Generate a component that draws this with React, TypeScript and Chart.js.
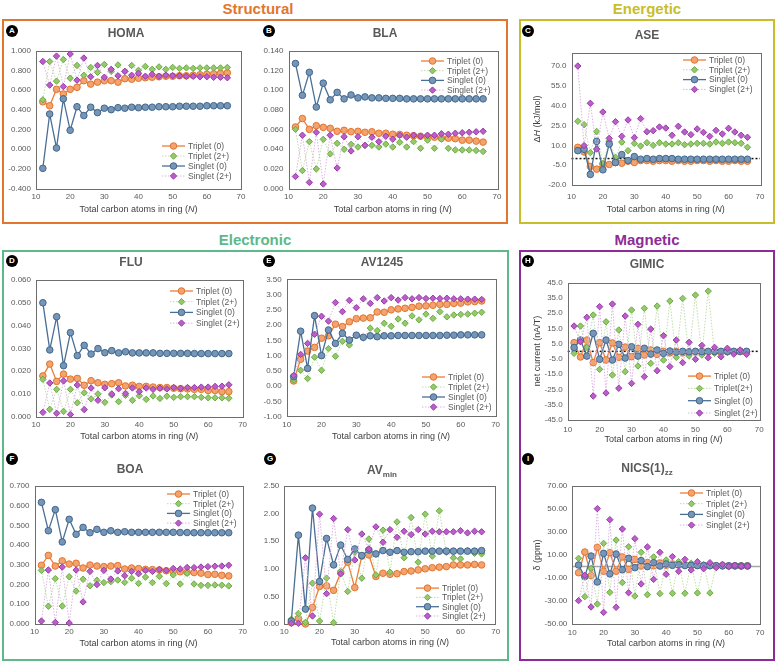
import React, { useEffect, useRef } from "react";
import { Chart, registerables } from "chart.js";

Chart.register(...registerables);

const FONT = '"Liberation Sans", Arial, Helvetica, sans-serif';
const TEXT = "#595959";

// ---------- data ----------
const N = [12, 14, 16, 18, 20, 22, 24, 26, 28, 30, 32, 34, 36, 38, 40, 42, 44, 46, 48, 50, 52, 54, 56, 58, 60, 62, 64, 66];
const X_TICKS = [10, 20, 30, 40, 50, 60, 70];
const LABELS = ["Triplet (0)", "Triplet (2+)", "Singlet (0)", "Singlet (2+)"];
const GIMIC_LABELS = ["Triplet (0)", "Triplet(2+)", "Singlet (0)", "Singlet (2+)"];

const HOMA_T0 = [0.48, 0.44, 0.607, 0.56, 0.607, 0.627, 0.695, 0.66, 0.68, 0.695, 0.695, 0.68, 0.715, 0.71, 0.72, 0.725, 0.73, 0.735, 0.74, 0.74, 0.745, 0.745, 0.75, 0.755, 0.76, 0.765, 0.77, 0.775];
const HOMA_T2 = [0.5, 0.89, 0.69, 0.91, 0.72, 0.85, 0.75, 0.83, 0.78, 0.86, 0.79, 0.855, 0.79, 0.85, 0.8, 0.84, 0.81, 0.835, 0.81, 0.83, 0.82, 0.825, 0.82, 0.825, 0.825, 0.825, 0.825, 0.83];
const HOMA_S0 = [-0.197, 0.356, 0.01, 0.51, 0.19, 0.43, 0.34, 0.425, 0.37, 0.415, 0.4, 0.42, 0.415, 0.425, 0.42, 0.425, 0.425, 0.43, 0.43, 0.43, 0.435, 0.435, 0.435, 0.435, 0.44, 0.44, 0.44, 0.44];
const HOMA_S2 = [0.89, 0.65, 0.945, 0.635, 0.966, 0.7, 0.925, 0.735, 0.85, 0.73, 0.81, 0.745, 0.79, 0.75, 0.77, 0.74, 0.76, 0.74, 0.75, 0.745, 0.745, 0.74, 0.74, 0.735, 0.735, 0.73, 0.73, 0.725];
const HOMA_TICKS = [-0.4, -0.2, 0, 0.2, 0.4, 0.6, 0.8, 1.0];

const BLA_T0 = [0.0624, 0.071, 0.06, 0.0637, 0.062, 0.061, 0.058, 0.059, 0.0576, 0.058, 0.057, 0.0575, 0.056, 0.056, 0.055, 0.0548, 0.054, 0.0535, 0.053, 0.0525, 0.052, 0.051, 0.051, 0.0505, 0.049, 0.049, 0.048, 0.047];
const BLA_T2 = [0.06, 0.018, 0.0475, 0.0197, 0.0498, 0.035, 0.0458, 0.0397, 0.0447, 0.042, 0.0437, 0.0437, 0.042, 0.045, 0.042, 0.0468, 0.042, 0.0475, 0.0407, 0.049, 0.0407, 0.05, 0.0407, 0.039, 0.039, 0.039, 0.0385, 0.0375];
const BLA_S0 = [0.127, 0.0946, 0.118, 0.0827, 0.107, 0.09, 0.0976, 0.091, 0.095, 0.092, 0.093, 0.092, 0.092, 0.0915, 0.0915, 0.0915, 0.091, 0.091, 0.091, 0.091, 0.091, 0.091, 0.091, 0.091, 0.091, 0.091, 0.091, 0.091];
const BLA_S2 = [0.012, 0.054, 0.006, 0.057, 0.0044, 0.054, 0.0207, 0.0525, 0.038, 0.0525, 0.0437, 0.052, 0.0475, 0.053, 0.05, 0.054, 0.052, 0.054, 0.053, 0.054, 0.054, 0.0555, 0.055, 0.056, 0.0565, 0.057, 0.0575, 0.058];
const BLA_TICKS = [0, 0.02, 0.04, 0.06, 0.08, 0.1, 0.12, 0.14];

const ASE_T0 = [8.5, 5, -6, -8, -4, -4.5, -3, -3.5, -2, -3, -1.5, -1.5, -2, -1.5, -1.5, -2, -1.5, -2, -2, -1.5, -1.5, -2, -1.5, -2, -2, -1.5, -2, -2];
const ASE_T2 = [28.2, 25.6, 4.5, 20.5, -4, 13, 1, 12.5, 6, 11.5, 9.5, 12, 10, 12, 11, 11, 12, 10.5, 11, 11.5, 11.5, 11, 12.5, 11.5, 12.5, 12, 11.5, 8.5];
const ASE_S0 = [6, 7, -12, 13, -8.5, 11, -3, 3, -1.5, 1.5, -0.5, 0, -0.5, 0, 0, 0, -0.5, -0.5, -0.5, -0.5, -0.5, -0.5, -0.5, -0.5, -0.5, -0.5, -0.5, -0.5];
const ASE_S2 = [70, 9.8, 41.8, 7.2, 35.2, 15.3, 27.9, 16.8, 29.2, 15.8, 30.2, 20.3, 21.1, 23.9, 23.1, 17.6, 24.4, 20.1, 18.1, 22.4, 19.8, 16.8, 21.3, 18.6, 22.9, 20.1, 17.6, 16.1];
const ASE_TICKS = [-20, -5, 10, 25, 40, 55, 70];
const ASE_MAX = 80;

const FLU_T0 = [0.0179, 0.0231, 0.0155, 0.0187, 0.0165, 0.0168, 0.0138, 0.0158, 0.0149, 0.0142, 0.0145, 0.0149, 0.0135, 0.0138, 0.0133, 0.0133, 0.013, 0.0128, 0.0128, 0.0125, 0.0123, 0.0122, 0.012, 0.012, 0.0115, 0.0115, 0.011, 0.011];
const FLU_T2 = [0.0164, 0.0032, 0.012, 0.0023, 0.012, 0.0061, 0.0105, 0.0078, 0.01, 0.0063, 0.0095, 0.0066, 0.0094, 0.0072, 0.0092, 0.0076, 0.0091, 0.008, 0.009, 0.0085, 0.0088, 0.0088, 0.0088, 0.0085, 0.0083, 0.0083, 0.0083, 0.0081];
const FLU_S0 = [0.05, 0.0293, 0.0439, 0.0224, 0.0369, 0.0268, 0.0313, 0.0275, 0.0299, 0.0281, 0.029, 0.028, 0.0285, 0.028, 0.028, 0.028, 0.028, 0.0278, 0.0278, 0.0278, 0.0278, 0.0278, 0.0277, 0.0277, 0.0277, 0.0277, 0.0277, 0.0277];
const FLU_S2 = [0.0019, 0.0148, 0.0015, 0.0157, 0.001, 0.0139, 0.0031, 0.0126, 0.0072, 0.0127, 0.01, 0.0123, 0.0102, 0.0126, 0.011, 0.0126, 0.012, 0.0125, 0.0122, 0.0128, 0.0125, 0.0128, 0.0128, 0.013, 0.013, 0.0133, 0.0134, 0.014];
const FLU_TICKS = [0, 0.01, 0.02, 0.03, 0.04, 0.05, 0.06];

const AV1245_T0 = [0.17, 0.88, 1.15, 1.27, 1.57, 1.65, 2.03, 1.95, 2.11, 2.21, 2.23, 2.24, 2.43, 2.42, 2.5, 2.53, 2.55, 2.58, 2.62, 2.63, 2.65, 2.68, 2.68, 2.71, 2.72, 2.76, 2.77, 2.79];
const AV1245_T2 = [0.2, 0.52, 0.25, 0.95, 0.52, 1.23, 0.98, 1.47, 1.35, 1.65, 1.58, 1.9, 1.82, 2.06, 1.96, 2.2, 2.06, 2.3, 2.17, 2.36, 2.22, 2.44, 2.27, 2.33, 2.35, 2.36, 2.39, 2.42];
const AV1245_S0 = [0.31, 1.8, 0.58, 2.31, 1.0, 1.84, 1.4, 1.73, 1.51, 1.67, 1.6, 1.65, 1.62, 1.65, 1.65, 1.66, 1.66, 1.66, 1.66, 1.66, 1.66, 1.66, 1.67, 1.67, 1.68, 1.68, 1.68, 1.68];
const AV1245_S2 = [0.35, 1.04, 1.4, 1.7, 2.29, 2.13, 2.74, 2.44, 2.81, 2.57, 2.86, 2.71, 2.9, 2.79, 2.9, 2.82, 2.9, 2.86, 2.9, 2.87, 2.88, 2.87, 2.88, 2.86, 2.86, 2.85, 2.85, 2.84];
const AV1245_TICKS = [-1, -0.5, 0, 0.5, 1, 1.5, 2, 2.5, 3, 3.5];

const BOA_T0 = [0.298, 0.348, 0.294, 0.32, 0.304, 0.308, 0.284, 0.299, 0.294, 0.291, 0.294, 0.296, 0.279, 0.284, 0.281, 0.277, 0.276, 0.274, 0.27, 0.268, 0.265, 0.262, 0.261, 0.258, 0.251, 0.252, 0.247, 0.244];
const BOA_T2 = [0.272, 0.09, 0.23, 0.091, 0.24, 0.167, 0.227, 0.194, 0.222, 0.21, 0.215, 0.223, 0.211, 0.232, 0.206, 0.238, 0.21, 0.242, 0.205, 0.249, 0.203, 0.257, 0.203, 0.196, 0.196, 0.198, 0.197, 0.193];
const BOA_S0 = [0.617, 0.473, 0.58, 0.416, 0.531, 0.455, 0.49, 0.463, 0.48, 0.465, 0.473, 0.465, 0.468, 0.465, 0.465, 0.465, 0.465, 0.465, 0.465, 0.465, 0.464, 0.464, 0.463, 0.463, 0.463, 0.463, 0.463, 0.463];
const BOA_S2 = [0.015, 0.274, 0.008, 0.289, 0.005, 0.274, 0.112, 0.267, 0.2, 0.272, 0.228, 0.269, 0.245, 0.267, 0.255, 0.272, 0.267, 0.277, 0.272, 0.282, 0.279, 0.287, 0.286, 0.289, 0.291, 0.293, 0.294, 0.298];
const BOA_TICKS = [0, 0.1, 0.2, 0.3, 0.4, 0.5, 0.6, 0.7];

const AVMIN_T0 = [0.024, 0.1, 0.0, 0.3, 0.68, 0.69, 0.61, 0.93, 1.12, 0.66, 1.23, 1.25, 0.86, 0.92, 0.9, 0.91, 0.95, 0.96, 0.98, 1.0, 1.02, 1.03, 1.04, 1.07, 1.07, 1.07, 1.08, 1.07];
const AVMIN_T2 = [0.085, 0.19, 0.03, 0.74, 0.054, 0.83, 0.024, 0.95, 0.59, 1.3, 0.83, 1.54, 0.89, 1.7, 0.94, 1.85, 1.2, 1.93, 1.12, 1.99, 1.23, 2.05, 1.3, 1.2, 1.18, 1.33, 1.28, 1.27];
const AVMIN_S0 = [0.054, 1.61, 0.27, 2.1, 0.77, 1.55, 1.07, 1.43, 1.17, 1.36, 1.24, 1.34, 1.27, 1.33, 1.3, 1.33, 1.3, 1.31, 1.31, 1.32, 1.32, 1.32, 1.32, 1.32, 1.32, 1.32, 1.32, 1.33];
const AVMIN_S2 = [0.012, 0.012, 1.2, 0.145, 1.99, 0.55, 1.91, 0.91, 1.71, 1.16, 1.63, 1.36, 1.76, 1.48, 1.71, 1.57, 1.68, 1.62, 1.71, 1.63, 1.68, 1.67, 1.67, 1.67, 1.69, 1.65, 1.68, 1.67];
const AVMIN_TICKS = [0, 0.5, 1, 1.5, 2, 2.5];

const GIMIC_T0 = [5.7, -3.7, 7.4, -7.4, 5.7, -5.7, 5.5, -3.9, 2.8, -3.5, 2, -2.4, 0.9, -2, 0, -1, 0, -1, -0.5, -0.5, 0, -0.5, -0.3, -0.5, -0.3, -0.3, -0.2, -0.3];
const GIMIC_T2 = [-1.3, 16.6, 2.6, 23.8, -11.8, 19.4, -15.5, 14, -13.3, 27.1, -9.6, 28.2, -7.9, 29.7, -5.7, 33, -3.9, 34.7, -3.1, 36.9, -2.4, 39.5, -1.3, -0.9, -0.7, -0.5, -0.3, -0.3];
const GIMIC_S0 = [2.5, 7.4, -3.1, 11.8, -5.2, 7.4, -5.7, 4.6, -4.4, 3, -3.1, 2, -1.8, 0.9, -1.3, 0.2, -0.5, 0, -0.3, 0, -0.2, 0, -0.1, 0, 0, 0, 0, 0];
const GIMIC_S2 = [16.6, 6.3, 22.3, -29.3, 29.3, -27.3, 31, -24.2, 23.2, -21, 17.7, -16.6, 14.6, -12.7, 10.3, -10, 7.4, -7.4, 5.9, -5.2, 3.9, -4.2, 2.6, -3.5, 2, -1.8, 0.9, -2];
const GIMIC_TICKS = [-45, -35, -25, -15, -5, 5, 15, 25, 35, 45];

const NICS_T0 = [-5.4, 12.6, -8, 16.7, -4.1, 12, -4.1, 8.3, -2.5, 6.2, 0.4, 3.5, 0.7, 3, 1, 2.2, 1.3, 1.5, 1, 1, 0.8, 0.8, 0.6, 0.6, 0.5, 0.5, 0.5, 0.5];
const NICS_T2 = [7.1, -26.2, -1.6, -32.6, 20.1, -22.5, 23, -14, 17.2, -25.7, 12.3, -24.5, 8.3, -23.6, 5.7, -23.3, 4.2, -23.3, 2.8, -23, 1.6, -23, 0.7, 0.5, 0.5, 0.5, 0.3, 0.3];
const NICS_S0 = [1.3, -8.8, 9.1, -13.5, 11.4, -6.4, 10.8, -2.8, 7.1, -1, 5.1, -0.1, 3.3, 0.4, 2.2, 1, 1.5, 0.8, 1, 0.8, 0.8, 0.7, 0.7, 0.6, 0.6, 0.6, 0.5, 0.5];
const NICS_S2 = [-29.7, -7.7, -35.2, 50.3, -39.9, 40.7, -35.5, 32.6, -22.8, 24.2, -15.2, 17, -11.2, 12.3, -6.8, 8.6, -4.2, 6.2, -3, 4.2, -1.9, 3.3, -1, 1.9, 0, 1, 0.2, 0.5];
const NICS_TICKS = [-50, -30, -10, 10, 30, 50, 70];

// ---------- styles ----------
type Style = { line: string; width: number; dash: number[]; fill: string; edge: string; shape: string; r: number };
const STYLES: Style[] = [
  { line: "#EA7E3A", width: 1.3, dash: [], fill: "#F2A36F", edge: "#E2742C", shape: "circle", r: 3.3 },
  { line: "#BEDDA8", width: 1, dash: [1.5, 1.5], fill: "#96C86C", edge: "#6CAB44", shape: "rectRot", r: 3.2 },
  { line: "#4A6F95", width: 1.3, dash: [], fill: "#7596B6", edge: "#42668B", shape: "circle", r: 3.3 },
  { line: "#DDB2E3", width: 1, dash: [1.5, 1.5], fill: "#BC5ECA", edge: "#963BA7", shape: "rectRot", r: 3.2 },
];

type Area = { l: number; r: number; t: number; b: number };
interface PanelDef {
  id: string;
  series: number[][];
  labels: string[];
  yTicks: number[];
  yMax?: number;
  decimals: number;
  area: Area;
  xTickY: number;
  legend: { corner: "tr" | "br"; dx: number; dy: number; row: number };
  zero?: "dot" | "solid";
}

const PANELS: PanelDef[] = [
  { id: "A", series: [HOMA_T0, HOMA_T2, HOMA_S0, HOMA_S2], labels: LABELS, yTicks: HOMA_TICKS, decimals: 3,
    area: { l: 36, r: 241, t: 50.7, b: 188.3 }, xTickY: 197, legend: { corner: "br", dx: 79, dy: 12.3, row: 10 } },
  { id: "B", series: [BLA_T0, BLA_T2, BLA_S0, BLA_S2], labels: LABELS, yTicks: BLA_TICKS, decimals: 3,
    area: { l: 288.5, r: 497, t: 50.7, b: 188.3 }, xTickY: 197, legend: { corner: "tr", dx: 76, dy: 10.3, row: 9.7 } },
  { id: "C", series: [ASE_T0, ASE_T2, ASE_S0, ASE_S2], labels: LABELS, yTicks: ASE_TICKS, yMax: ASE_MAX, decimals: 1,
    area: { l: 571.5, r: 760, t: 52.8, b: 185 }, xTickY: 196.7, legend: { corner: "tr", dx: 77, dy: 7.2, row: 9.8 }, zero: "dot" },
  { id: "D", series: [FLU_T0, FLU_T2, FLU_S0, FLU_S2], labels: LABELS, yTicks: FLU_TICKS, decimals: 3,
    area: { l: 36, r: 242.6, t: 280, b: 416.7 }, xTickY: 424.5, legend: { corner: "tr", dx: 72.6, dy: 11, row: 10.7 } },
  { id: "E", series: [AV1245_T0, AV1245_T2, AV1245_S0, AV1245_S2], labels: LABELS, yTicks: AV1245_TICKS, decimals: 2,
    area: { l: 286.7, r: 495.6, t: 279.3, b: 416.7 }, xTickY: 424.5, legend: { corner: "br", dx: 73.6, dy: 9.7, row: 10 } },
  { id: "H", series: [GIMIC_T0, GIMIC_T2, GIMIC_S0, GIMIC_S2], labels: GIMIC_LABELS, yTicks: GIMIC_TICKS, decimals: 1,
    area: { l: 567.7, r: 759.3, t: 282.7, b: 420 }, xTickY: 429.3, legend: { corner: "br", dx: 71.3, dy: 7, row: 12.3 }, zero: "dot" },
  { id: "F", series: [BOA_T0, BOA_T2, BOA_S0, BOA_S2], labels: LABELS, yTicks: BOA_TICKS, decimals: 3,
    area: { l: 34.5, r: 242.6, t: 486, b: 624 }, xTickY: 631.7, legend: { corner: "tr", dx: 75.6, dy: 8, row: 9.7 } },
  { id: "G", series: [AVMIN_T0, AVMIN_T2, AVMIN_S0, AVMIN_S2], labels: LABELS, yTicks: AVMIN_TICKS, decimals: 2,
    area: { l: 284.3, r: 495.7, t: 486, b: 624 }, xTickY: 631.7, legend: { corner: "br", dx: 79.7, dy: 8, row: 9.3 } },
  { id: "I", series: [NICS_T0, NICS_T2, NICS_S0, NICS_S2], labels: LABELS, yTicks: NICS_TICKS, decimals: 2,
    area: { l: 572.3, r: 760, t: 486, b: 624 }, xTickY: 632.3, legend: { corner: "tr", dx: 80, dy: 7, row: 10.7 }, zero: "solid" },
];

function drawMarker(ctx: CanvasRenderingContext2D, st: Style, x: number, y: number) {
  ctx.beginPath();
  if (st.shape === "circle") ctx.arc(x, y, st.r, 0, Math.PI * 2);
  else {
    ctx.moveTo(x - st.r, y);
    ctx.lineTo(x, y - st.r);
    ctx.lineTo(x + st.r, y);
    ctx.lineTo(x, y + st.r);
    ctx.closePath();
  }
  ctx.fillStyle = st.fill;
  ctx.fill();
  ctx.lineWidth = 1;
  ctx.strokeStyle = st.edge;
  ctx.stroke();
}

function Panel({ def }: { def: PanelDef }) {
  const ref = useRef<HTMLCanvasElement>(null);
  const a = def.area;
  const cl = Math.round(a.l - 34);
  const ct = Math.round(a.t - 12);
  const cw = Math.round(a.r + 14) - cl;
  const ch = Math.round(a.b + 16) - ct;

  useEffect(() => {
    if (!ref.current) return;
    const yAxisW = a.l - cl;
    const xAxisH = ct + ch - a.b;
    const padTop = a.t - ct;
    const padRight = cl + cw - a.r;

    const framePlugin = {
      id: "frame",
      beforeDatasetsDraw(chart: any) {
        const { ctx, chartArea: ca, scales } = chart;
        ctx.save();
        if (def.zero) {
          const y0 = scales.y.getPixelForValue(0);
          ctx.beginPath();
          ctx.moveTo(ca.left, y0);
          ctx.lineTo(ca.right, y0);
          if (def.zero === "dot") {
            ctx.setLineDash([2, 2]);
            ctx.strokeStyle = "#111";
            ctx.lineWidth = 1.5;
          } else {
            ctx.strokeStyle = "#A6A6A6";
            ctx.lineWidth = 1.5;
          }
          ctx.stroke();
          ctx.setLineDash([]);
        }
        ctx.strokeStyle = "#6E6E6E";
        ctx.lineWidth = 1;
        ctx.strokeRect(Math.round(ca.left) + 0.5, Math.round(ca.top) + 0.5, Math.round(ca.right - ca.left), Math.round(ca.bottom - ca.top));
        ctx.restore();
      },
    };

    const legendPlugin = {
      id: "inLegend",
      afterDatasetsDraw(chart: any) {
        const { ctx, chartArea: ca } = chart;
        const lg = def.legend;
        const n = def.labels.length;
        const x0 = ca.right - lg.dx;
        const y0 = lg.corner === "tr" ? ca.top + lg.dy : ca.bottom - lg.dy - (n - 1) * lg.row;
        ctx.save();
        def.labels.forEach((label, i) => {
          const st = STYLES[i];
          const y = y0 + i * lg.row;
          ctx.setLineDash(st.dash);
          ctx.strokeStyle = st.line;
          ctx.lineWidth = st.width;
          ctx.beginPath();
          ctx.moveTo(x0, y);
          ctx.lineTo(x0 + 23, y);
          ctx.stroke();
          ctx.setLineDash([]);
          drawMarker(ctx, st, x0 + 11.5, y);
          ctx.fillStyle = TEXT;
          ctx.font = `8.5px ${FONT}`;
          ctx.textBaseline = "middle";
          ctx.textAlign = "left";
          ctx.fillText(label, x0 + 26, y + 0.5);
        });
        ctx.restore();
      },
    };

    const yt = def.yTicks;
    const chart = new Chart(ref.current, {
      type: "line",
      data: {
        datasets: def.series.map((vals, i) => {
          const st = STYLES[i];
          return {
            label: def.labels[i],
            data: N.map((n, j) => ({ x: n, y: vals[j] })),
            borderColor: st.line,
            borderWidth: st.width,
            borderDash: st.dash,
            pointStyle: st.shape as any,
            pointRadius: st.r,
            pointBorderWidth: 1,
            pointBackgroundColor: st.fill,
            pointBorderColor: st.edge,
            tension: 0,
            fill: false,
            order: 3 - i,
            clip: false as any,
          };
        }),
      },
      options: {
        responsive: false,
        maintainAspectRatio: false,
        animation: false,
        events: [],
        layout: { padding: { top: padTop, right: padRight, left: 0, bottom: 0 } },
        plugins: { legend: { display: false }, tooltip: { enabled: false }, title: { display: false } },
        scales: {
          x: {
            type: "linear",
            min: 10,
            max: 70,
            afterBuildTicks: (ax: any) => {
              ax.ticks = X_TICKS.map((v) => ({ value: v }));
            },
            afterFit: (s: any) => {
              s.height = xAxisH;
            },
            grid: { display: false, drawTicks: false },
            border: { display: false },
            ticks: {
              padding: def.xTickY - a.b - 4.8,
              maxRotation: 0,
              autoSkip: false,
              color: TEXT,
              font: { family: FONT, size: 8 },
              callback: (v: any) => String(v),
            },
          },
          y: {
            type: "linear",
            min: yt[0],
            max: def.yMax !== undefined ? def.yMax : yt[yt.length - 1],
            afterBuildTicks: (ax: any) => {
              ax.ticks = yt.map((v) => ({ value: v }));
            },
            afterFit: (s: any) => {
              s.width = yAxisW;
            },
            grid: { display: false, drawTicks: false },
            border: { display: false },
            ticks: {
              padding: 5,
              autoSkip: false,
              color: TEXT,
              font: { family: FONT, size: 8 },
              callback: (v: any) => Number(v).toFixed(def.decimals),
            },
          },
        },
      },
      plugins: [framePlugin, legendPlugin],
    } as any);
    return () => chart.destroy();
  }, []);

  return (
    <canvas
      ref={ref}
      width={cw}
      height={ch}
      style={{ position: "absolute", left: cl, top: ct, width: cw, height: ch }}
    />
  );
}

const abs = (x: number, y: number): React.CSSProperties => ({
  position: "absolute",
  left: x,
  top: y,
  transform: "translate(-50%, -50%)",
  whiteSpace: "nowrap",
  lineHeight: 1,
});

function Heading({ x, y, text, color }: { x: number; y: number; text: string; color: string }) {
  return <div style={{ ...abs(x, y), fontFamily: FONT, fontWeight: 700, fontSize: 15, color }}>{text}</div>;
}

function Box({ l, t, w, h, color }: { l: number; t: number; w: number; h: number; color: string }) {
  return <div style={{ position: "absolute", left: l, top: t, width: w, height: h, border: `2px solid ${color}`, boxSizing: "border-box" }} />;
}

function Letter({ x, y, ch }: { x: number; y: number; ch: string }) {
  return (
    <div
      style={{
        ...abs(x, y),
        width: 12,
        height: 12,
        borderRadius: 6,
        background: "#000",
        color: "#fff",
        fontFamily: FONT,
        fontWeight: 700,
        fontSize: 8,
        display: "flex",
        alignItems: "center",
        justifyContent: "center",
      }}
    >
      {ch}
    </div>
  );
}

function Title({ x, y, children }: { x: number; y: number; children: React.ReactNode }) {
  return <div style={{ ...abs(x, y), fontFamily: FONT, fontWeight: 700, fontSize: 12, color: TEXT }}>{children}</div>;
}

function XTitle({ x, y }: { x: number; y: number }) {
  return (
    <div style={{ ...abs(x, y), fontFamily: FONT, fontSize: 9, color: "#404040" }}>
      Total carbon atoms in ring (<i>N</i>)
    </div>
  );
}

function YTitle({ x, y, children }: { x: number; y: number; children: React.ReactNode }) {
  return (
    <div style={{ ...abs(x, y), transform: "translate(-50%, -50%) rotate(-90deg)", fontFamily: FONT, fontSize: 9, color: "#404040" }}>
      {children}
    </div>
  );
}

const SUB: React.CSSProperties = { fontSize: 8, verticalAlign: "-3px", lineHeight: 1 };

export default function App() {
  return (
    <div style={{ position: "absolute", left: 0, top: 0, width: 777, height: 665, background: "#fff", overflow: "hidden" }}>
      <Box l={2} t={19} w={506} h={205} color="#E2762F" />
      <Box l={519} t={19} w={256} h={205} color="#C8BE2A" />
      <Box l={2} t={250} w={507} h={411} color="#5DB88A" />
      <Box l={519} t={250} w={256} h={411} color="#8D2B97" />

      <Heading x={258} y={8} text="Structural" color="#E2762F" />
      <Heading x={647} y={8} text="Energetic" color="#C8BE2A" />
      <Heading x={255} y={239} text="Electronic" color="#5DB88A" />
      <Heading x={647} y={239} text="Magnetic" color="#8D2B97" />

      {PANELS.map((p) => (
        <Panel key={p.id} def={p} />
      ))}

      <Letter x={12} y={31} ch="A" />
      <Letter x={269} y={31} ch="B" />
      <Letter x={528} y={31} ch="C" />
      <Letter x={12} y={261} ch="D" />
      <Letter x={269} y={261} ch="E" />
      <Letter x={528} y={261} ch="H" />
      <Letter x={12} y={459} ch="F" />
      <Letter x={270} y={459} ch="G" />
      <Letter x={528} y={459} ch="I" />

      <Title x={126} y={33}>HOMA</Title>
      <Title x={385} y={33}>BLA</Title>
      <Title x={647} y={35}>ASE</Title>
      <Title x={131} y={262}>FLU</Title>
      <Title x={382} y={262}>AV1245</Title>
      <Title x={647} y={264}>GIMIC</Title>
      <Title x={130} y={469}>BOA</Title>
      <Title x={382} y={471}>
        AV<span style={SUB}>min</span>
      </Title>
      <Title x={647} y={469}>
        NICS(1)<span style={SUB}>zz</span>
      </Title>

      <XTitle x={138.5} y={209} />
      <XTitle x={392.7} y={209} />
      <XTitle x={665.7} y={209} />
      <XTitle x={139.3} y={436} />
      <XTitle x={391} y={436} />
      <XTitle x={663.5} y={439} />
      <XTitle x={138.5} y={643} />
      <XTitle x={390} y={642} />
      <XTitle x={666} y={643} />

      <YTitle x={537} y={119}>
        Δ<i>H</i> (kJ/mol)
      </YTitle>
      <YTitle x={537} y={351}>
        net current (nA/T)
      </YTitle>
      <YTitle x={537} y={555}>
        δ (ppm)
      </YTitle>
    </div>
  );
}
